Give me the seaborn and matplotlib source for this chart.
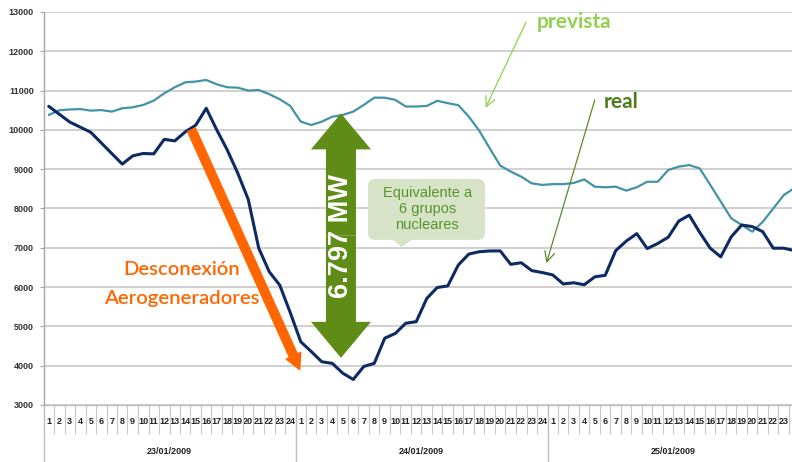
import numpy as np
import pandas as pd
import matplotlib
matplotlib.use("Agg")
import matplotlib.pyplot as plt
import seaborn as sns
from matplotlib.patches import FancyArrow, FancyBboxPatch, Polygon

# ---------------- data ----------------
dates = ["23/01/2009", "24/01/2009", "25/01/2009"]
hours = list(range(1, 25))
y_ticks = list(range(3000, 13001, 1000))

real = [10600, 10400, 10200, 10070, 9940, 9670, 9400, 9130, 9340, 9400, 9390, 9760,
        9720, 9950, 10120, 10550, 10000, 9490, 8900, 8230, 6990, 6390, 6050, 5350,
        4610, 4360, 4100, 4060, 3810, 3650, 3980, 4060, 4700, 4820, 5080, 5120,
        5710, 5990, 6030, 6560, 6840, 6900, 6920, 6920, 6580, 6620, 6420, 6370,
        6310, 6080, 6110, 6060, 6260, 6300, 6930, 7170, 7360, 6980, 7110, 7270,
        7680, 7830, 7390, 6990, 6770, 7280, 7580, 7540, 7410, 6990, 6990, 6930]

prevista = [10380, 10500, 10520, 10530, 10490, 10505, 10465, 10550, 10575, 10635, 10745, 10930,
            11085, 11210, 11230, 11270, 11160, 11085, 11075, 11000, 11015, 10910, 10780, 10610,
            10210, 10125, 10210, 10335, 10380, 10465, 10635, 10820, 10820, 10765, 10595, 10595,
            10610, 10740, 10680, 10630, 10340, 9980, 9530, 9090, 8940, 8810, 8640, 8600,
            8620, 8620, 8650, 8740, 8555, 8540, 8555, 8455, 8540, 8680, 8680, 8980,
            9065, 9105, 9020, 8600, 8175, 7750, 7580, 7410, 7660, 8000, 8340, 8520]

# ---------------- style ----------------
sns.set_style("white")
plt.rcParams['font.family'] = ['Liberation Sans', 'DejaVu Sans']

W, H = 792, 462
fig = plt.figure(figsize=(W / 100, H / 100), dpi=100)
left_px, col_w = 43.5, 10.5
top_px, bot_px = 12, 405
ax = fig.add_axes([left_px / W, (H - bot_px) / H, (W - left_px) / W, (bot_px - top_px) / H])

t = np.arange(len(real))
df = pd.DataFrame({"t": t, "real": real, "prevista": prevista})

sns.lineplot(data=df, x="t", y="prevista", ax=ax, color="#4393A8", lw=1.6, zorder=3)
sns.lineplot(data=df, x="t", y="real", ax=ax, color="#0E2A63", lw=2.2, zorder=4)

ax.set_xlabel("")
ax.set_ylabel("")

# y axis
ax.set_yticks(y_ticks)
ax.set_yticklabels([str(v) for v in y_ticks])
ax.yaxis.grid(True, color="#C4C4C4", lw=1.1)
ax.set_axisbelow(True)
ax.tick_params(axis="y", left=True, length=3, width=0.8, color="#A6A6A6", pad=4,
               labelsize=6.5, labelcolor="#333333")
for lab in ax.get_yticklabels():
    lab.set_fontweight("bold")

# x axis: hours and days
ax.set_xticks(t)
ax.set_xticklabels([str(h) for d in dates for h in hours])
ax.set_xticks(np.arange(len(real) + 1) - 0.5, minor=True)
ax.tick_params(axis="x", which="major", bottom=True, length=0, pad=9,
               labelsize=6.5, labelcolor="#222222")
ax.tick_params(axis="x", which="minor", bottom=True, length=21, width=0.8,
               color="#C8C8C8", direction="out")
for lab in ax.get_xticklabels():
    lab.set_fontweight("bold")

ax.set_xlim(-0.5, -0.5 + (W - left_px) / col_w)
ax.set_ylim(3000, 13000)

for s in ["top", "right"]:
    ax.spines[s].set_visible(False)
ax.spines["bottom"].set_color("#BFBFBF")
ax.spines["left"].set_color("#A6A6A6")
ax.spines["bottom"].set_linewidth(1.0)
ax.spines["left"].set_linewidth(1.0)

xtr = ax.get_xaxis_transform()
depth = (H - bot_px) / (bot_px - top_px)
for k in range(len(dates) + 1):
    ax.plot([24 * k - 0.5] * 2, [0, -depth], transform=xtr, clip_on=False,
            color="#BFBFBF", lw=1.0)
for k, d in enumerate(dates):
    ax.text(24 * k + 11.5, -(452 - bot_px) / (bot_px - top_px), d, transform=xtr,
            ha="center", va="center", fontsize=6.5, fontweight="bold", color="#222222")

# ---------------- annotations ----------------
# orange arrow
ax.annotate("", xy=(23.9, 3900), xytext=(13.6, 10000),
            arrowprops=dict(arrowstyle="simple,head_length=1.1,head_width=1.15,tail_width=0.62",
                            color="#FF6600", mutation_scale=10, shrinkA=0, shrinkB=0),
            zorder=6)
ax.text(12.7, 6460, "Desconexión", ha="center", va="center", fontsize=14.6,
        fontweight="semibold", color="#FF6600", family=["Lato", "DejaVu Sans"], zorder=7)
ax.text(12.7, 5700, "Aerogeneradores", ha="center", va="center", fontsize=14.6,
        fontweight="semibold", color="#FF6600", family=["Lato", "DejaVu Sans"], zorder=7)

# green double arrow
gx, gtop, gbot = 27.83, 10420, 4200
gmid = (gtop + gbot) / 2
green = "#5E8C16"
for y0, y1 in [(gmid, gtop), (gmid, gbot)]:
    ax.add_patch(FancyArrow(gx, y0, 0, y1 - y0, width=30 / col_w, head_width=60 / col_w,
                            head_length=36 / 0.0393, length_includes_head=True,
                            color=green, lw=0, zorder=6))
ax.text(gx, gmid, "6.797 MW", rotation=90, ha="center", va="center", fontsize=19.5,
        fontweight="bold", color="white", zorder=7)

# callout box
asp = (1 / 0.0393) * col_w
box = FancyBboxPatch((30.4, 7200), 41.55 - 30.4, 8750 - 7200,
                     boxstyle="round,pad=0,rounding_size=0.7", mutation_aspect=asp,
                     fc="#D7E3C6", ec="none", zorder=6)
ax.add_patch(box)
ax.add_patch(Polygon([[32.5, 7260], [34.9, 7260], [33.6, 7020]], closed=True,
                     fc="#D7E3C6", ec="none", zorder=6))
ax.text(36.05, 7990, "Equivalente a\n6 grupos\nnucleares", ha="center", va="center",
        fontsize=10.5, color="#57932C", linespacing=1.2, zorder=7)

# prevista / real labels
ax.text(50.0, 12750, "prevista", ha="center", va="center", fontsize=15, fontweight="bold",
        color="#92D050", family=["Lato", "DejaVu Sans"], zorder=7)
ax.annotate("", xy=(41.6, 10560), xytext=(45.45, 12740),
            arrowprops=dict(arrowstyle="->,head_length=0.6,head_width=0.3", color="#92D050",
                            lw=0.9, shrinkA=0, shrinkB=0, mutation_scale=12), zorder=7)
ax.text(54.5, 10710, "real", ha="center", va="center", fontsize=15, fontweight="bold",
        color="#4E7D1E", family=["Lato", "DejaVu Sans"], zorder=7)
ax.annotate("", xy=(47.4, 6610), xytext=(52.0, 10760),
            arrowprops=dict(arrowstyle="->,head_length=0.6,head_width=0.3", color="#5A8A2A",
                            lw=0.9, shrinkA=0, shrinkB=0, mutation_scale=12), zorder=7)

fig.savefig("out.png", dpi=100)
